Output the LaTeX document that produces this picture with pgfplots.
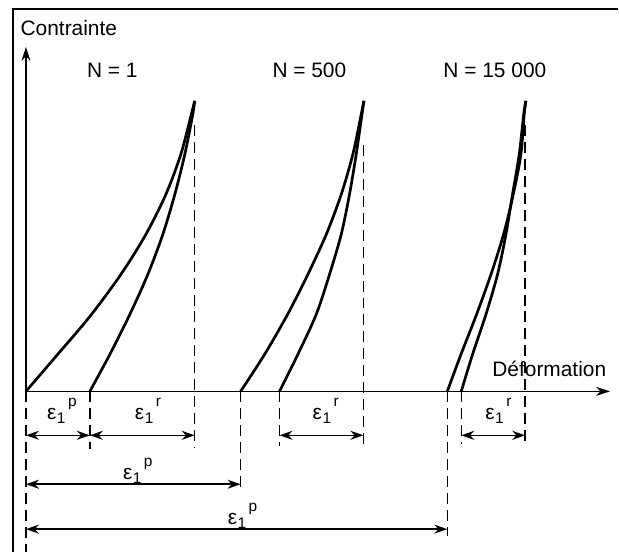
\documentclass[border=0pt]{standalone}
\usepackage{pgfplots}
\pgfplotsset{compat=1.18}
\usepackage{fontspec}
\setmainfont{Liberation Sans}
\usetikzlibrary{arrows.meta}
\newcommand{\subsz}{\fontsize{15.5}{15.5}\selectfont}
\newcommand{\eps}[1]{ε\kern0.5bp\raisebox{-4bp}{\subsz 1}\kern2.5bp\raisebox{13bp}{\subsz #1}}
\tikzset{lbl/.style={font=\fontsize{21}{25}\selectfont, inner sep=0pt}}
\begin{document}
\begin{tikzpicture}
\begin{axis}[
  scale only axis, width=619bp, height=553bp,
  xmin=0, xmax=619, ymin=0, ymax=553,
  hide axis, clip=false,
  every axis plot/.append style={black},
]
\path (rel axis cs:0,0) rectangle (rel axis cs:1,1);
% frame
\addplot[line width=2bp] coordinates {(13,0) (13,544) (619,544)};
% axes
\addplot[line width=1.6bp, -{Stealth[length=14bp,width=9bp]}] coordinates {(26,161) (26,506)};
\addplot[line width=1.6bp, -{Stealth[length=14bp,width=9bp]}] coordinates {(26,161) (611,161)};
% N = 1
\addplot[line width=2.7bp, smooth] coordinates {(26,161) (56,196) (90,236) (121,278) (146,318) (166,358) (181,398) (191.5,438) (195,452)};
\addplot[line width=2.7bp, smooth] coordinates {(195,452) (193,438) (185,398) (175,358) (163,318) (148,278) (130,238) (110,198) (90,161)};
% N = 500
\addplot[line width=2.7bp, smooth] coordinates {(241,161) (265,198) (288,238) (308.3,278) (326.7,318) (341.7,358) (353.3,398) (361.7,438) (364.5,452)};
\addplot[line width=2.7bp, smooth] coordinates {(364.5,452) (362.5,438) (356.7,398) (350,358) (341.7,318) (330,278) (316.7,238) (298.3,198) (280,161)};
% N = 15000
\addplot[line width=2.7bp, smooth] coordinates {(448,161) (461.7,198) (477.3,238) (491.7,278) (504.3,318) (514,358) (521.7,398) (525,438) (526.7,452)};
\addplot[line width=2.7bp, smooth] coordinates {(526.7,452) (524.5,438) (520,398) (513.3,358) (506.7,318) (498.3,278) (486.7,238) (473.3,198) (462,161)};
% dashed guide lines
\pgfplotsset{dl/.style={line width=1.4bp, dash pattern=on 11bp off 6bp}}
\addplot[dl] coordinates {(26,161) (26,0)};
\addplot[dl] coordinates {(90,161) (90,103)};
\addplot[dl] coordinates {(195,428) (195,104)};
\addplot[dl] coordinates {(241,161) (241,63)};
\addplot[dl] coordinates {(280,161) (280,106)};
\addplot[dl] coordinates {(364,408) (364,106)};
\addplot[dl] coordinates {(448,161) (448,16)};
\addplot[dl] coordinates {(462,161) (462,108)};
\addplot[dl] coordinates {(526,428) (526,108)};
% dimension arrows
\pgfplotsset{da/.style={line width=1.5bp, {Stealth[length=13bp,width=9bp]}-{Stealth[length=13bp,width=9bp]}}}
\addplot[da] coordinates {(26,117) (90,117)};
\addplot[da] coordinates {(90,117) (195,117)};
\addplot[da] coordinates {(280,117) (364,117)};
\addplot[da] coordinates {(462,117) (526,117)};
\addplot[da] coordinates {(26,68) (241,68)};
\addplot[da] coordinates {(26,23) (448,23)};
% texts
\node[lbl, anchor=base west] at (axis cs:20.5,517) {Contrainte};
\node[lbl, anchor=base west] at (axis cs:87,475) {N = 1};
\node[lbl, anchor=base east] at (axis cs:347,475) {N = 500};
\node[lbl, anchor=base west] at (axis cs:444,475) {N = 15 000};
\node[lbl, anchor=base west] at (axis cs:493,176) {Déformation};
\node[lbl, anchor=base west] at (axis cs:47,133) {\eps{p}};
\node[lbl, anchor=base west] at (axis cs:135,133) {\eps{r}};
\node[lbl, anchor=base west] at (axis cs:123,73) {\eps{p}};
\node[lbl, anchor=base west] at (axis cs:228,28) {\eps{p}};
\node[lbl, anchor=base west] at (axis cs:313,133) {\eps{r}};
\node[lbl, anchor=base west] at (axis cs:486,133) {\eps{r}};
\end{axis}
\end{tikzpicture}
\end{document}
